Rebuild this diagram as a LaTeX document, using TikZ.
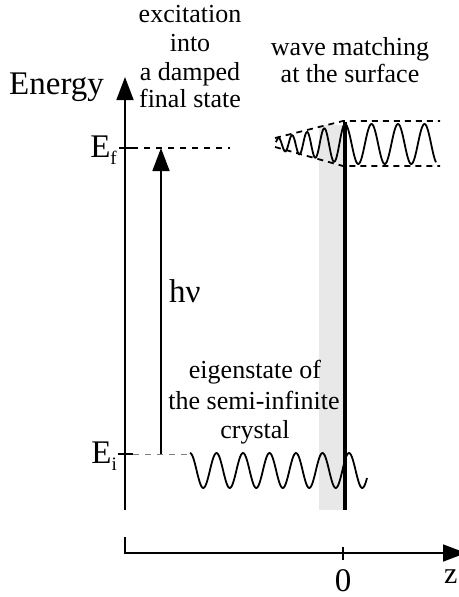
\documentclass[tikz,border=0pt]{standalone}
\usepackage{fontspec}
\setmainfont{Liberation Serif}
\usetikzlibrary{arrows.meta}
\begin{document}
\begin{tikzpicture}[x=1pt,y=-1pt,
  lbl/.style={font=\fontsize{26}{27}\selectfont, inner sep=0pt, anchor=base},
  big/.style={font=\fontsize{33}{33}\selectfont, inner sep=0pt},
  axis/.style={line width=1.6pt},
  tip/.style={-{Triangle[length=23pt,width=17pt]}},
  edash/.style={dash pattern=on 6pt off 6pt, line width=1.3pt},
  envdash/.style={dash pattern=on 6pt off 5pt, line width=1.8pt},
  wave/.style={line width=1.8pt, line join=round}]
\useasboundingbox (0,0) rectangle (458,597);
% surface region
\fill[black!9] (319,125) rectangle (343,510);
% coordinates
\coordinate (eb) at (125,510);
\coordinate (et) at (125,77);
\coordinate (tfa) at (119,148);
\coordinate (tfb) at (132,148);
\coordinate (tia) at (118,454);
\coordinate (tib) at (133,454);
\coordinate (dfe) at (230,148);
\coordinate (die) at (192,454);
\coordinate (exs) at (161,454);
\coordinate (exe) at (161,148);
\coordinate (srft) at (345,122);
\coordinate (srfb) at (345,510);
\coordinate (zl) at (125,537);
\coordinate (zo) at (125,553);
\coordinate (zr) at (466,553);
\coordinate (z0a) at (343,547);
\coordinate (z0b) at (343,560);
\coordinate (uea) at (275,138);
\coordinate (ueb) at (343,121);
\coordinate (uec) at (440,121);
\coordinate (lea) at (275,147);
\coordinate (leb) at (343,166);
\coordinate (lec) at (440,166);
% axes
\draw[axis,tip] (eb) -- (et);
\draw[axis] (tfa) -- (tfb);
\draw[axis] (tia) -- (tib);
\draw[edash] (tfb) -- (dfe);
\draw[edash, black!50, line width=1pt] (tib) -- (die);
\draw[axis,tip] (exs) -- (exe);
\draw[axis,tip] (zl) -- (zo) -- (zr);
\draw[axis] (z0a) -- (z0b);
% surface
\draw[line width=4pt] (srft) -- (srfb);
% envelopes
\draw[envdash] (uea) -- (ueb) -- (uec);
\draw[envdash] (lea) -- (leb) -- (lec);
% waves
\draw[wave] plot[domain=345:436, samples=140, smooth] (\x, {144 - 20*cos(13.585*(\x-345))});
\draw[wave] plot[domain=276:345, samples=160, smooth] (\x, {144 - (5.5+0.2101*(\x-276))*cos(15.318*(345-\x) + 0.0954*(345-\x)*(345-\x))});
\draw[wave] plot[domain=190:367, samples=220, smooth] (\x, {470.5 - 17.5*cos(13.585*(\x-190))});
% labels
\node[big, anchor=base west] (energy) at (9,94) {Energy};
\node[big, anchor=base east] (ef) at (117,157) {E\raisebox{-7pt}{\fontsize{19}{19}\selectfont f}};
\node[big, anchor=base east] (ei) at (117,463) {E\raisebox{-7pt}{\fontsize{19}{19}\selectfont i}};
\node[big, anchor=base west] (hnu) at (169,302) {hν};
\node[big, anchor=base] (zero) at (343,591) {0};
\node[font=\fontsize{30}{30}\selectfont, anchor=base west, inner sep=0pt] (zlab) at (444,583) {z};
\node[lbl] (t1) at (190,23) {excitation};
\node[lbl] (t2) at (190,51) {into};
\node[lbl] (t3) at (190,80) {a damped};
\node[lbl] (t4) at (190,107) {final state};
\node[lbl] (w1) at (350,55) {wave matching};
\node[lbl] (w2) at (350,82) {at the surface};
\node[lbl] (c1) at (255,378) {eigenstate of};
\node[lbl] (c2) at (254,409) {the semi-infinite};
\node[lbl] (c3) at (255,438) {crystal};
\end{tikzpicture}
\end{document}
